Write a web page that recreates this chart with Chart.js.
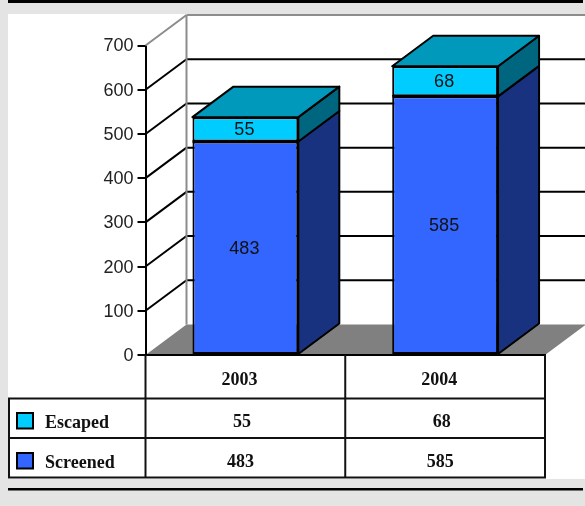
<!DOCTYPE html>
<html>
<head>
<meta charset="utf-8">
<style>
  html, body { margin: 0; padding: 0; background: #e4e4e4; }
  canvas { display: block; }
</style>
<script src="https://cdn.jsdelivr.net/npm/chart.js@4/dist/chart.umd.min.js"></script>
</head>
<body>
<canvas id="chart" width="585" height="506"></canvas>
<script>
// --- DATA ---
const years = ['2003', '2004'];
const screened = [483, 585];
const escaped = [55, 68];
const yTicks = [0, 100, 200, 300, 400, 500, 600, 700];

// --- STYLE ---
const DX = 41, DY = 30.5;          // depth of the 3d box
const ROW_Y = [398.5, 438, 477.5]; // table row lines
const TABLE_LEFT = 9;
const sansFont = '"Liberation Sans", Arial, sans-serif';
const serifFont = '"Liberation Serif", "Times New Roman", serif';

function poly(ctx, pts, fill, stroke, lw) {
    ctx.beginPath();
    pts.forEach((p, i) => i ? ctx.lineTo(p[0], p[1]) : ctx.moveTo(p[0], p[1]));
    ctx.closePath();
    if (fill) { ctx.fillStyle = fill; ctx.fill(); }
    if (stroke) { ctx.strokeStyle = stroke; ctx.lineWidth = lw || 2; ctx.lineJoin = 'round'; ctx.stroke(); }
}

function line(ctx, x1, y1, x2, y2, color, lw) {
    ctx.beginPath();
    ctx.moveTo(x1, y1);
    ctx.lineTo(x2, y2);
    ctx.strokeStyle = color;
    ctx.lineWidth = lw || 2;
    ctx.stroke();
}

// page frame + 3d walls behind the bars
const wallsPlugin = {
    id: 'walls',
    beforeDraw(chart) {
        const ctx = chart.ctx;
        ctx.save();
        ctx.fillStyle = '#e4e4e4';
        ctx.fillRect(0, 0, chart.width, chart.height);
        ctx.fillStyle = '#ffffff';
        ctx.fillRect(8, 14, 577, 465);
        ctx.fillStyle = '#000000';
        ctx.fillRect(8, 0, 575, 3);
        ctx.fillRect(8, 488, 575, 2.5);
        ctx.restore();
    },
    beforeDatasetsDraw(chart) {
        const ctx = chart.ctx;
        const a = chart.chartArea;
        const y = chart.scales.y;
        const y0 = y.getPixelForValue(0);
        ctx.save();
        // floor
        poly(ctx, [[a.left, y0], [a.left + DX, y0 - DY], [a.right + DX, y0 - DY], [a.right, y0]], '#808080');
        // grid lines on side and back wall
        yTicks.forEach(v => {
            if (v === 0) return;
            const py = y.getPixelForValue(v);
            const col = v === 700 ? '#8c8c8c' : '#000000';
            line(ctx, a.left, py, a.left + DX, py - DY, col, 2);
            line(ctx, a.left + DX, py - DY, a.right + DX, py - DY, col, 2);
        });
        line(ctx, a.left + DX, a.top - DY, a.left + DX, y0 - DY, '#8c8c8c', 2);

        // side and top faces of the bars
        const sideCols = ['#19327f', '#006680'];
        chart.data.datasets.forEach((ds, di) => {
            chart.getDatasetMeta(di).data.forEach(el => {
                const p = el.getProps(['x', 'y', 'base', 'width'], true);
                const r = p.x + p.width / 2, l = p.x - p.width / 2;
                poly(ctx, [[r, p.y], [r + DX, p.y - DY], [r + DX, p.base - DY], [r, p.base]], sideCols[di], '#000000', 2);
                if (di === chart.data.datasets.length - 1) {
                    poly(ctx, [[l, p.y], [l + DX, p.y - DY], [r + DX, p.y - DY], [r, p.y]], '#0099bb', '#000000', 2);
                }
            });
        });
        ctx.restore();
    },
    afterDatasetsDraw(chart) {
        const ctx = chart.ctx;
        ctx.save();
        // seam between the two stacked pieces
        chart.getDatasetMeta(0).data.forEach(el => {
            const p = el.getProps(['x', 'y', 'width'], true);
            line(ctx, p.x - p.width / 2, p.y, p.x + p.width / 2, p.y, '#000000', 2.5);
        });
        ctx.font = '18px ' + sansFont;
        ctx.fillStyle = '#111111';
        ctx.textAlign = 'center';
        ctx.textBaseline = 'middle';
        chart.data.datasets.forEach((ds, di) => {
            chart.getDatasetMeta(di).data.forEach((el, i) => {
                const p = el.getProps(['x', 'y', 'base'], true);
                ctx.fillText(String(ds.data[i]), p.x - 1, (p.y + p.base) / 2 + 1);
            });
        });
        ctx.restore();
    }
};

// data table below the plot
const tablePlugin = {
    id: 'dataTable',
    afterDraw(chart) {
        const ctx = chart.ctx;
        const a = chart.chartArea;
        const x = chart.scales.x;
        const y0 = chart.scales.y.getPixelForValue(0);
        const mid = (x.getPixelForValue(0) + x.getPixelForValue(1)) / 2;
        const dark = '#111111';
        ctx.save();
        line(ctx, a.left - 1, y0, a.right + 1, y0, '#000000', 2);
        ROW_Y.forEach(py => line(ctx, TABLE_LEFT - 1, py, a.right + 1, py, dark, 2));
        line(ctx, TABLE_LEFT, ROW_Y[0], TABLE_LEFT, ROW_Y[2], dark, 2);
        line(ctx, a.left, y0, a.left, ROW_Y[2], dark, 2);
        line(ctx, mid, y0, mid, ROW_Y[2], dark, 2);
        line(ctx, a.right, y0, a.right, ROW_Y[2], dark, 2);

        const rows = [
            { name: 'Escaped', values: escaped, color: '#00ccff', cy: 422, off: -3.5, box: 413 },
            { name: 'Screened', values: screened, color: '#3366ff', cy: 462, off: -5, box: 453 }
        ];
        ctx.font = 'bold 18px ' + serifFont;
        ctx.textBaseline = 'middle';
        rows.forEach(r => {
            ctx.fillStyle = r.color;
            ctx.fillRect(17, r.box, 16, 15.5);
            ctx.strokeStyle = '#000000';
            ctx.lineWidth = 2;
            ctx.strokeRect(17, r.box, 16, 15.5);
            ctx.fillStyle = dark;
            ctx.textAlign = 'left';
            ctx.fillText(r.name, 45, r.cy + 1);
            ctx.textAlign = 'center';
            r.values.forEach((v, i) => ctx.fillText(String(v), x.getPixelForValue(i) + r.off, r.cy));
        });
        ctx.restore();
    }
};

new Chart(document.getElementById('chart').getContext('2d'), {
    type: 'bar',
    data: {
        labels: years,
        datasets: [
            { label: 'Screened', data: screened, backgroundColor: '#3366ff', borderColor: '#000000', borderWidth: 2, borderSkipped: false },
            { label: 'Escaped', data: escaped, backgroundColor: '#00ccff', borderColor: '#000000', borderWidth: 2, borderSkipped: false }
        ]
    },
    options: {
        responsive: false,
        animation: false,
        devicePixelRatio: 1,
        layout: { padding: { top: 45.5, right: 40, left: 0, bottom: 0 } },
        datasets: { bar: { barPercentage: 0.53, categoryPercentage: 1 } },
        plugins: { legend: { display: false }, tooltip: { enabled: false } },
        scales: {
            x: {
                stacked: true,
                afterFit: s => { s.height = 151; },
                grid: { display: false },
                border: { display: false },
                ticks: {
                    labelOffset: -6, padding: 7, maxRotation: 0,
                    color: '#111111',
                    font: { family: serifFont, size: 18, weight: 'bold' }
                }
            },
            y: {
                stacked: true,
                min: 0,
                max: 700,
                afterFit: s => { s.width = 145.5; },
                afterBuildTicks: s => { s.ticks = yTicks.map(v => ({ value: v })); },
                grid: { drawOnChartArea: false, drawTicks: true, tickLength: 8, color: '#000000', lineWidth: 2 },
                border: { display: true, color: '#000000', width: 2 },
                ticks: {
                    padding: 4,
                    labelOffset: 1,
                    color: '#222222',
                    font: { family: sansFont, size: 18 }
                }
            }
        }
    },
    plugins: [wallsPlugin, tablePlugin]
});
</script>
</body>
</html>
